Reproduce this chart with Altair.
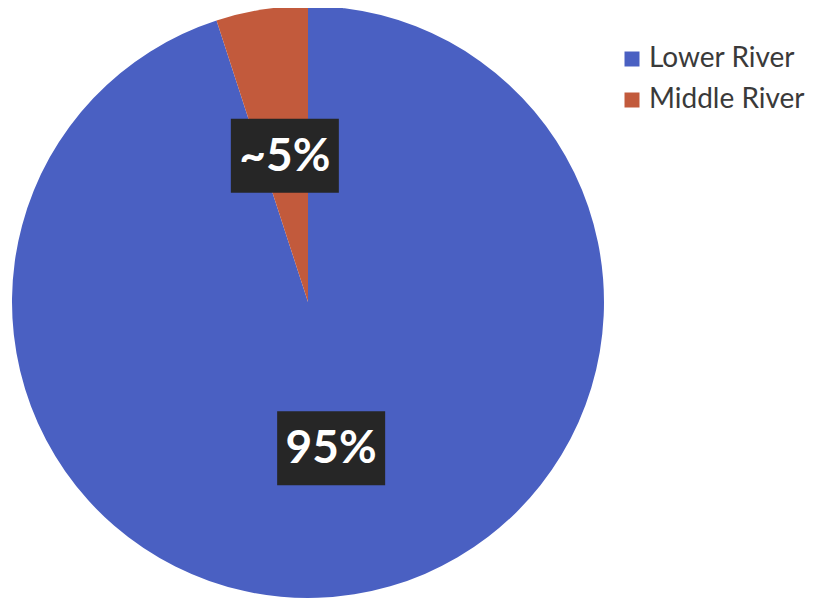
import altair as alt
import pandas as pd

regions = ["Lower River", "Middle River"]
shares = [95, 5]
labels = ["95%", "~5%"]
colors = ["#4a60c2", "#c25a3c"]

df = pd.DataFrame({"region": regions, "share": shares, "label": labels,
                   "order": [0, 1]})

CX, CY, R, LR = 300, 294, 296, 148

base = alt.Chart(df)

pie = base.mark_arc(outerRadius=R, stroke=None).encode(
    theta=alt.Theta("share:Q", stack=True),
    order=alt.Order("order:Q"),
    color=alt.Color(
        "region:N",
        scale=alt.Scale(domain=regions, range=colors),
        legend=alt.Legend(
            title=None, orient="none", legendX=610, legendY=37,
            symbolType="square", symbolSize=225, symbolStrokeWidth=0,
            labelFont="Lato", labelFontSize=28, labelColor="#3a3a3a",
            labelOffset=3, rowPadding=13, padding=0,
        ),
    ),
    x=alt.value(CX),
    y=alt.value(CY),
)

pos = base.transform_window(
    cum="sum(share)", sort=[alt.SortField("order")]
).transform_joinaggregate(
    total="sum(share)"
).transform_calculate(
    mid="2*PI*(datum.cum - datum.share/2)/datum.total"
).transform_calculate(
    px=f"{CX} + {LR}*sin(datum.mid)",
    py=f"{CY} - {LR}*cos(datum.mid)",
).transform_calculate(
    x1="datum.px - 54", x2="datum.px + 54",
    y1="datum.py - 37", y2="datum.py + 37",
)

boxes = pos.mark_rect(color="#262626").encode(
    x=alt.X("x1:Q", scale=None), x2="x2:Q",
    y=alt.Y("y1:Q", scale=None), y2="y2:Q",
)

texts = pos.mark_text(font="Lato", fontSize=46, fontWeight="bold",
                      color="white", baseline="middle", align="center",
                      dy=1).encode(
    x=alt.X("px:Q", scale=None),
    y=alt.Y("py:Q", scale=None),
    text="label:N",
)

chart = alt.layer(pie, boxes, texts).properties(
    width=802, height=592, padding=0,
    autosize=alt.AutoSizeParams(type="none"),
).configure(background="white", view=alt.ViewConfig(stroke=None))

chart.save("out.html", embed_options={"renderer": "svg", "actions": False})
